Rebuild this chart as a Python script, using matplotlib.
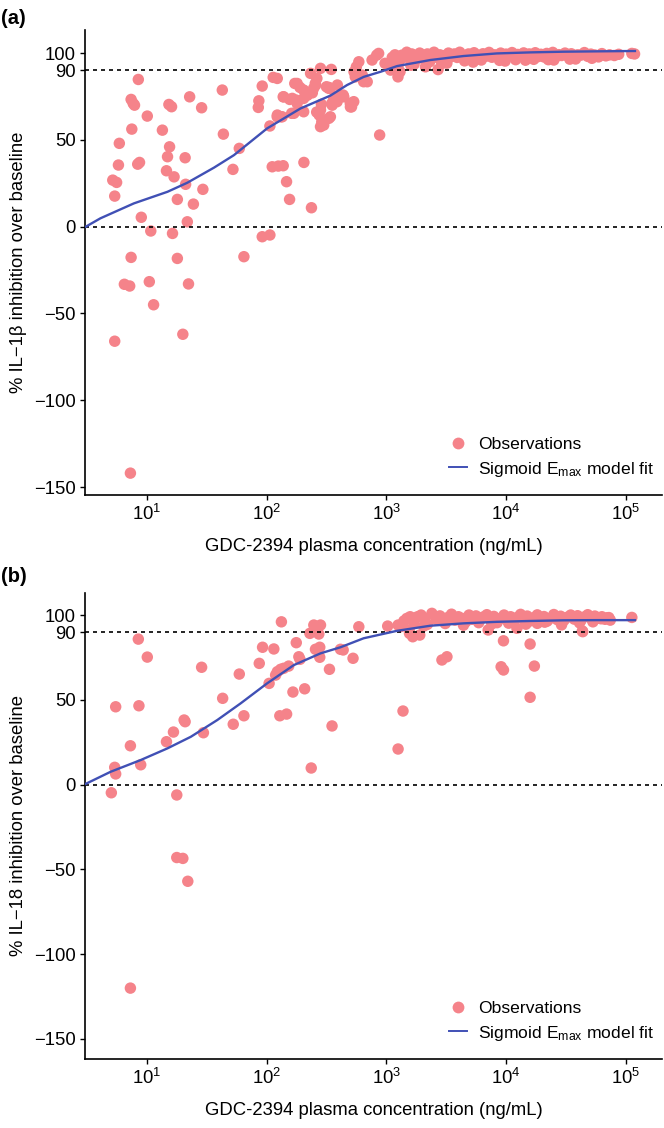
import numpy as np
import matplotlib.pyplot as plt
from matplotlib.lines import Line2D

plt.rcParams['font.family'] = ['Liberation Sans', 'DejaVu Sans']
plt.rcParams['mathtext.fontset'] = 'custom'
plt.rcParams['mathtext.rm'] = 'Liberation Sans'
plt.rcParams['mathtext.it'] = 'Liberation Sans:italic'

PT_COLOR = '#F5838A'
FIT_COLOR = '#4050B5'
FS = 13.3

# ---- panel (a): IL-1beta, observations (ng/mL, % inhibition)
il1b_conc = [
    8.5, 7.4, 7.7, 7.9, 10.1, 5.9, 7.5, 13.5, 15.3, 16.1, 22.8, 28.7, 42.7, 43.6,
    15.5, 14.9, 20.9, 5.8, 8.4, 8.7, 5.2, 5.6, 5.4, 14.6, 16.9, 21.1, 18.0, 29.4,
    24.5, 21.8, 9.0, 10.8, 16.4, 7.4, 18.0, 6.5, 7.2, 10.5, 22.3, 11.4, 5.4, 20.0,
    7.3, 52.4, 59.2, 64.7, 92, 106.6, 92, 86.2, 85.3, 113.6, 122.8, 106.6, 111.5,
    125.3, 137.7, 146.8, 155.6, 137.7, 156, 177, 122.7, 135, 169, 172, 190, 205,
    237, 219, 241, 257, 233, 282, 347, 263, 282, 275, 289, 331, 282, 331, 350, 372,
    341, 364, 353, 388, 441, 341, 501, 534, 879, 589, 562, 537, 646, 692, 630, 550,
    862, 760, 1045, 1230, 2120, 1300, 2900, 180, 204, 139, 164, 204, 180, 219, 247,
    255, 123, 132, 162, 204, 500, 512, 436, 390, 400, 316, 330, 262, 287, 300,
    830, 975, 1350, 1250, 1150, 1085,
]
il1b_pct = [
    84.8, 73.3, 71.0, 70.0, 63.7, 48.0, 56.2, 55.6, 70.4, 69.1, 74.8, 68.5, 78.7, 53.3,
    46.0, 40.3, 39.7, 35.5, 36.0, 37.0, 26.8, 25.5, 17.6, 32.2, 28.7, 24.4, 15.7, 21.5,
    13.0, 2.8, 5.4, -2.5, -3.9, -17.7, -18.3, -33.2, -34.2, -31.7, -33.0, -45.0, -66.0, -62.0,
    -142.0, 33.0, 45.1, -17.3, -5.8, -4.8, 81.0, 72.5, 68.7, 86.0, 85.4, 58.0, 34.5,
    34.9, 35.1, 25.9, 15.7, 74.8, 73.3, 72.9, 63.3, 63.3, 65.3, 82.5, 80.2, 37.0,
    10.9, 75.8, 77.1, 81.6, 88.3, 91.2, 90.6, 85.4, 67.2, 64.3, 60.4, 62.4, 57.6, 80.2, 71.0, 72.9,
    79.7, 73.9, 70.0, 72.0, 74.8, 63.3, 69.0, 72.0, 52.8, 95.0, 92.1, 89.2, 83.5, 83.5, 87.3, 86.3,
    99.8, 96.0, 93.0, 90.2, 92.1, 89.2, 94.0, 82.5, 78.7, 74.8, 73.9, 73.9, 71.0, 75.8, 79.7,
    82.5, 64.3, 63.3, 65.3, 66.2, 71.0, 69.0, 75.8, 81.6, 74.8, 80.6, 79.7, 66.0, 70.5, 58.5,
    98.8, 94.1, 98.8, 86.3, 96.0, 90.2,
]
# dense plateau of IL-1beta observations above 10^3 ng/mL
il1b_conc_hi = [
    1120, 1180, 1320, 1400, 1480, 1550, 1630, 1720, 1800, 1900, 2000, 2100, 2200, 2350,
    2500, 2650, 2800, 2950, 3100, 3300, 3500, 3700, 3900, 4100, 4350, 4600, 4850, 5100,
    5400, 5700, 6000, 6400, 6800, 7200, 7600, 8000, 8500, 9000, 9500, 10000, 10600,
    11200, 11800, 12500, 13200, 14000, 14800, 15600, 16500, 17500, 18500, 19500, 20600,
    21800, 23000, 24500, 26000, 27500, 29000, 31000, 33000, 35000, 37000, 39500, 42000,
    45000, 48000, 51000, 55000, 59000, 63000, 68000, 73000, 80000, 87000, 1700, 2300,
    3200, 4500, 6200, 8800, 12000, 17000, 25000, 38000, 1250, 1600, 2700, 5300, 9800,
    14500, 22500, 34000, 52000, 112000, 118000,
]
il1b_pct_hi = [
    97.5, 99.0, 96.5, 98.5, 100.5, 97.0, 99.5, 98.0, 96.5, 100.0, 98.5, 97.0, 99.5, 98.0,
    100.5, 97.5, 99.0, 98.5, 96.8, 100.0, 98.0, 99.5, 97.5, 100.5, 98.5, 97.0, 99.5, 98.0,
    100.2, 98.8, 97.2, 99.6, 98.2, 100.4, 97.6, 99.0, 98.4, 100.0, 97.8, 99.4, 98.6,
    100.3, 97.9, 99.2, 98.3, 100.1, 97.7, 99.5, 98.7, 100.2, 98.0, 99.3, 97.8,
    99.8, 98.4, 100.4, 97.9, 99.1, 98.6, 100.0, 98.2, 99.6, 97.7, 99.0, 98.8,
    100.3, 98.1, 99.4, 98.9, 97.8, 99.7, 98.4, 99.0, 98.6, 99.3, 93.5, 95.0,
    94.2, 95.5, 96.0, 95.8, 96.2, 96.4, 96.0, 96.6, 92.0, 93.0, 90.5, 94.8, 95.4,
    95.9, 96.2, 96.5, 97.0, 99.8, 99.5,
]
# model prediction curve, panel (a)
fit_a_conc = [3.1, 4.1, 7.8, 14.9, 21.8, 36.4, 53.4, 101, 192, 341, 470, 647, 891,
              1228, 2328, 4406, 8356, 15850, 30060, 57020, 118900]
fit_a_pct = [0.0, 4.8, 13.4, 20.1, 25.3, 34.0, 41.2, 56.6, 68.1, 75.5, 81.6, 86.3, 89.2,
             92.5, 96.0, 98.3, 99.8, 100.4, 100.8, 101.0, 101.2]

# ---- panel (b): IL-18
il18_conc = [
    5.06, 5.5, 5.4, 5.5, 7.3, 8.5, 8.6, 8.9, 10.1, 14.6, 16.7, 17.8, 20.5, 20.9,
    28.7, 29.7, 43, 52.7, 59.2, 64.7, 86.9, 92.6, 105, 115, 133, 123, 131, 139, 153,
    119, 129, 147, 166, 177, 186, 190, 208, 236, 230, 248, 282, 273, 256, 278, 278,
    335, 352, 414, 436, 527, 589, 1026, 1253, 1377, 1253, 2910, 3204, 9500, 15850,
    9080, 9500, 17200, 15850, 43250, 7.3, 17.8, 20.0, 22.0,
    1480, 1580, 1660, 1820, 1950, 2100, 2400, 1550, 1660, 1900, 1560, 7080, 12300, 18200, 43600,
]
il18_pct = [
    -4.8, 45.9, 10.2, 6.3, 22.9, 85.8, 46.5, 11.7, 75.2, 25.3, 31.0, -6.1, 38.1, 37.1,
    69.2, 30.6, 50.9, 35.6, 65.2, 40.6, 71.5, 81.0, 59.7, 80.0, 96.0, 66.6, 68.0, 68.6, 69.9,
    64.6, 40.6, 41.6, 54.6, 83.7, 75.4, 73.9, 56.5, 9.8, 89.2, 94.1, 94.1, 88.8, 79.8, 81.0, 75.1,
    68.0, 34.6, 79.8, 79.4, 74.5, 93.1, 93.5, 94.1, 43.4, 21.0, 73.5, 75.4, 84.8, 82.9,
    69.5, 67.6, 69.9, 51.5, 90.6, -120.0, -43.0, -43.5, -57.0,
    98.0, 99.0, 98.0, 99.0, 100.0, 98.0, 101.0, 91.2, 87.2, 88.2, 89.2, 91.2, 92.2, 95.1, 90.2,
]
il18_conc_hi = [
    2600, 2800, 3000, 3250, 3500, 3750, 4000, 4300, 4600, 4900, 5200, 5600, 6000, 6400,
    6900, 7400, 7900, 8400, 9000, 9600, 10200, 10900, 11600, 12400, 13200, 14100, 15000,
    16000, 17000, 18200, 19400, 20700, 22000, 23500, 25000, 26700, 28500, 30400, 32400,
    34600, 37000, 39500, 42000, 45000, 48000, 51500, 55000, 59000, 63000, 67000, 72000,
    2200, 3100, 4400, 5900, 7600, 10500, 14600, 21000, 29000, 41000, 53000, 1300, 1400,
    1700, 2050, 62000, 70000, 112000, 74000,
]
il18_pct_hi = [
    97.5, 99.5, 96.5, 98.5, 100.5, 97.0, 99.0, 98.0, 96.0, 100.0, 97.5, 99.5, 96.8, 98.8,
    100.2, 97.2, 99.2, 95.5, 98.0, 100.0, 97.0, 99.0, 96.2, 98.6, 100.4, 97.4, 99.4,
    96.6, 98.4, 100.1, 97.1, 99.1, 96.4, 98.2, 100.3, 97.3, 99.3, 96.9, 98.7,
    100.0, 97.6, 99.6, 96.7, 98.9, 100.2, 97.8, 99.4, 98.1, 99.0, 97.5, 98.5,
    94.5, 95.0, 94.0, 95.5, 94.8, 95.2, 94.6, 95.8, 94.2, 95.4, 96.0, 93.0, 96.5,
    95.0, 93.5, 97.8, 98.4, 98.6, 97.0,
]
fit_b_conc = [3.0, 5.0, 8.9, 14.9, 23.3, 38.8, 60.7, 101, 169, 282, 414, 646, 1228,
              2327, 4406, 8350, 15850, 30060, 57000, 118850]
fit_b_pct = [0.0, 7.6, 14.5, 21.4, 28.2, 38.1, 47.9, 59.7, 70.5, 77.4, 81.0, 86.3, 90.7,
             93.7, 95.1, 96.0, 96.5, 96.9, 97.0, 97.0]

W, H = 664, 1128
fig = plt.figure(figsize=(W / 100, H / 100), dpi=100)


def px_axes(left, top, right, bottom):
    return fig.add_axes([left / W, 1 - bottom / H, (right - left) / W, (bottom - top) / H])


def draw_panel(ax, conc, pct, fit_conc, fit_pct, ylim, ylabel):
    ax.scatter(conc, pct, s=68, color=PT_COLOR, edgecolors='none', zorder=2)
    for yv in (0, 90):
        ax.axhline(yv, color='black', lw=1.2, dashes=(2.4, 2.4), zorder=3)
    ax.plot(fit_conc, fit_pct, color=FIT_COLOR, lw=1.7, zorder=4)
    ax.set_xscale('log')
    ax.set_xlim(3.05, 2.0e5)
    ax.set_ylim(*ylim)
    ax.set_yticks([-150, -100, -50, 0, 50, 90, 100])
    ax.set_yticklabels(['\u2212150', '\u2212100', '\u221250', '0', '50', '90', '100'])
    ax.set_xticks([1e1, 1e2, 1e3, 1e4, 1e5])
    ax.xaxis.set_minor_locator(plt.NullLocator())
    for s in ('top', 'right'):
        ax.spines[s].set_visible(False)
    for s in ('left', 'bottom'):
        ax.spines[s].set_linewidth(1.2)
    ax.tick_params(length=3.5, width=1.0, labelsize=FS, colors='black', pad=3)
    ax.set_xlabel('GDC-2394 plasma concentration (ng/mL)', fontsize=FS, labelpad=10)
    ax.set_ylabel(ylabel, fontsize=FS, labelpad=5)
    handles = [
        Line2D([], [], marker='o', ls='none', markersize=8.5, color=PT_COLOR, markeredgewidth=0),
        Line2D([], [], color=FIT_COLOR, lw=1.4),
    ]
    ax.legend(handles, ['Observations', r'Sigmoid E$_{\mathregular{max}}$ model fit'],
              loc='lower right', bbox_to_anchor=(1.014, 0.0015), frameon=False,
              fontsize=12.6, handlelength=1.05, handletextpad=0.6, labelspacing=0.42)


ax_a = px_axes(85, 30, 662, 495)
draw_panel(ax_a, il1b_conc + il1b_conc_hi, il1b_pct + il1b_pct_hi,
           fit_a_conc, fit_a_pct, (-154.6, 113.3), '% IL\u22121\u03b2 inhibition over baseline')

ax_b = px_axes(85, 593, 662, 1059)
draw_panel(ax_b, il18_conc + il18_conc_hi, il18_pct + il18_pct_hi,
           fit_b_conc, fit_b_pct, (-161.8, 113.0), '% IL\u221218 inhibition over baseline')

fig.text(1 / W, 1 - 18 / H, '(a)', fontsize=14.5, fontweight='bold', va='center')
fig.text(1 / W, 1 - 576 / H, '(b)', fontsize=14.5, fontweight='bold', va='center')

fig.savefig('out.png', dpi=100)
